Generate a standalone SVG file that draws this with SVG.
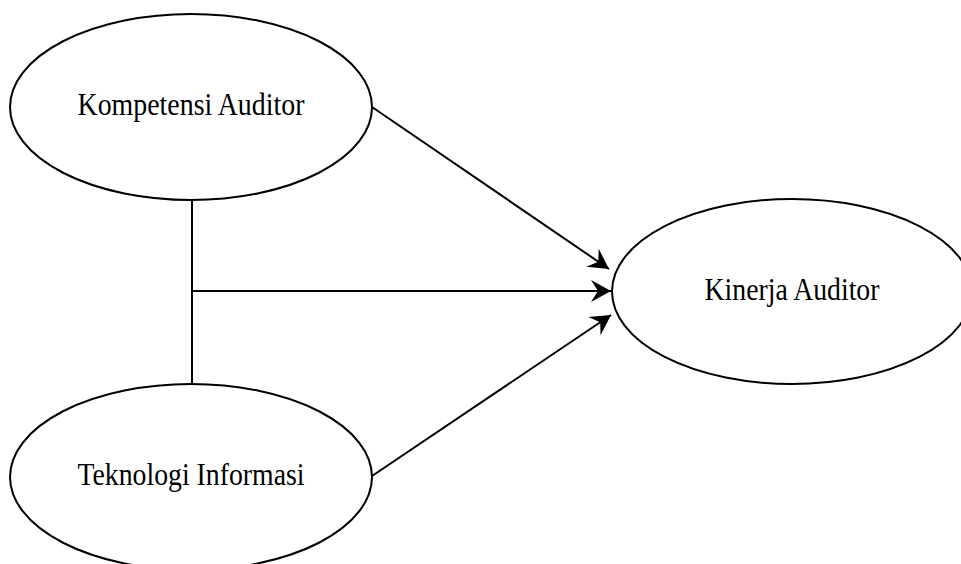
<svg xmlns="http://www.w3.org/2000/svg" width="961" height="564" viewBox="0 0 961 564">
<style>
.node ellipse{fill:#fff;stroke:#000;stroke-width:2}
.node text{font-family:"Liberation Serif","Times New Roman",serif;font-size:31px;fill:#000;text-anchor:middle}
.conn line{stroke:#000;stroke-width:2}
</style>
<defs>
<marker id="ah" markerUnits="userSpaceOnUse" markerWidth="26" markerHeight="26" viewBox="-22 -13 26 26" refX="0" refY="0" orient="auto">
<path d="M0,0 L-20,-11 L-13,0 L-20,11 Z" fill="#000"/>
</marker>
</defs>
<rect width="961" height="564" fill="#fff"/>
<g class="conn" id="connectors">
<line x1="192" y1="200" x2="192" y2="384"/>
<line x1="192" y1="291" x2="611" y2="291" marker-end="url(#ah)"/>
<line x1="372" y1="107" x2="609" y2="269" marker-end="url(#ah)"/>
<line x1="372" y1="476" x2="611" y2="315" marker-end="url(#ah)"/>
</g>
<g class="node" id="kompetensi">
<ellipse cx="191" cy="107" rx="181" ry="93"/>
<text x="191" y="115" textLength="227" lengthAdjust="spacingAndGlyphs">Kompetensi Auditor</text>
</g>
<g class="node" id="teknologi">
<ellipse cx="191" cy="477" rx="181" ry="93"/>
<text x="191" y="485" textLength="227" lengthAdjust="spacingAndGlyphs">Teknologi Informasi</text>
</g>
<g class="node" id="kinerja">
<ellipse cx="792" cy="291.5" rx="180" ry="92.5"/>
<text x="792" y="300" textLength="175" lengthAdjust="spacingAndGlyphs">Kinerja Auditor</text>
</g>
</svg>
